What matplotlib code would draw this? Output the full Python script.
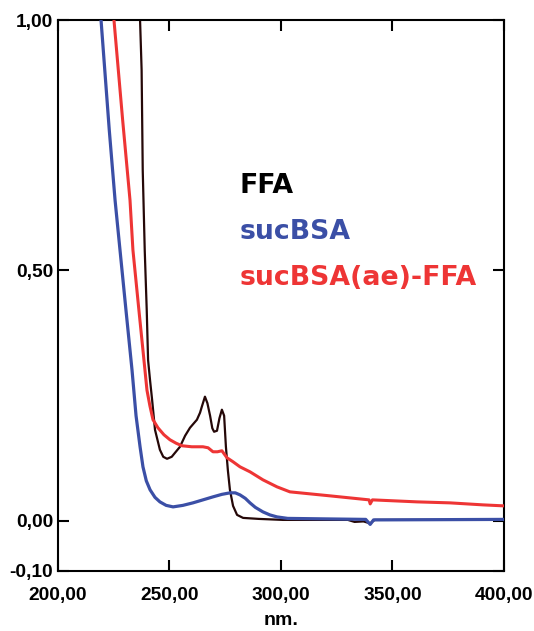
import matplotlib.pyplot as plt

# wavelength (nm) / absorbance
ffa_x = [236.8, 237.5, 238.0, 238.9, 239.8, 240.4, 241.3, 242.2, 243.5, 245.7, 247.2,
         248.9, 251.0, 254.7, 257.0, 259.2, 262.3, 263.7, 264.5, 265.9, 267.0, 268.2,
         269.2, 270.0, 271.3, 272.4, 273.5, 274.5, 275.3, 276.2, 277.1, 278.5, 280.3,
         283.0, 290.0, 300.9, 330.0, 333.0, 337.0, 340.0, 342.0, 400.0]
ffa_y = [1.00, 0.90, 0.70, 0.54, 0.42, 0.321, 0.28, 0.242, 0.182, 0.142, 0.128,
         0.124, 0.128, 0.148, 0.170, 0.186, 0.202, 0.216, 0.228, 0.248, 0.235, 0.210,
         0.185, 0.178, 0.180, 0.205, 0.222, 0.210, 0.148, 0.100, 0.062, 0.030, 0.012,
         0.006, 0.004, 0.002, 0.002, -0.002, -0.001, -0.005, 0.002, 0.002]

suc_x = [219.3, 223.0, 225.6, 227.8, 230.5, 233.2, 235.0, 236.8, 238.1, 239.6, 241.3,
         243.5, 245.7, 248.5, 251.6, 256.0, 260.5, 265.0, 269.5, 273.5, 277.1, 279.5,
         281.6, 284.0, 286.1, 288.5, 291.9, 295.0, 298.2, 303.0, 320.0, 338.0, 340.0,
         341.5, 400.0]
suc_y = [1.00, 0.78, 0.64, 0.541, 0.42, 0.301, 0.21, 0.148, 0.108, 0.080, 0.062,
         0.047, 0.038, 0.031, 0.028, 0.031, 0.036, 0.042, 0.048, 0.053, 0.056, 0.056,
         0.052, 0.045, 0.036, 0.027, 0.018, 0.012, 0.008, 0.005, 0.004, 0.003, -0.007,
         0.002, 0.003]

mix_x = [225.1, 229.0, 232.3, 233.6, 236.3, 239.0, 239.9, 241.2, 242.6, 244.8, 247.5,
         250.2, 253.0, 255.6, 260.0, 265.0, 267.3, 269.5, 271.5, 273.5, 275.8, 278.5,
         281.6, 286.1, 291.9, 298.2, 304.0, 308.5, 322.0, 339.5, 340.0, 341.0, 361.0,
         375.8, 390.6, 400.0]
mix_y = [1.00, 0.80, 0.64, 0.541, 0.42, 0.301, 0.261, 0.230, 0.202, 0.186, 0.172,
         0.162, 0.155, 0.150, 0.148, 0.148, 0.146, 0.138, 0.138, 0.140, 0.126, 0.118,
         0.108, 0.098, 0.082, 0.068, 0.058, 0.056, 0.050, 0.042, 0.034, 0.042, 0.038,
         0.036, 0.032, 0.030]

x_ticks = [200, 250, 300, 350, 400]
x_labels = ['200,00', '250,00', '300,00', '350,00', '400,00']
y_ticks = [-0.1, 0.0, 0.5, 1.0]
y_labels = ['-0,10', '0,00', '0,50', '1,00']

plt.rcParams['font.family'] = ['Liberation Sans', 'DejaVu Sans']

fig = plt.figure(figsize=(5.34, 6.31), dpi=100)
ax = fig.add_axes([0.1086, 0.0951, 0.8352, 0.8732])

ax.plot(ffa_x, ffa_y, color='#250808', lw=1.6, zorder=2)
ax.plot(mix_x, mix_y, color='#ee3535', lw=2.2, zorder=3)
ax.plot(suc_x, suc_y, color='#3b4fa6', lw=2.3, zorder=4)

ax.set_xlim(200, 400)
ax.set_ylim(-0.1, 1.0)
ax.set_xticks(x_ticks)
ax.set_xticklabels(x_labels, fontsize=13.8, fontweight='bold')
ax.set_yticks(y_ticks)
ax.set_yticklabels(y_labels, fontsize=13.8, fontweight='bold')
ax.tick_params(axis='x', direction='in', length=8, width=1.5, pad=11.5, top=True)
ax.tick_params(axis='y', direction='in', length=8, width=1.5, pad=3.5, right=True)
ax.set_xlabel('nm.', fontsize=14, fontweight='bold', labelpad=6)
for s in ax.spines.values():
    s.set_linewidth(1.5)

tfont = dict(family=['DejaVu Sans'], fontweight='bold', fontsize=19.3,
             transform=ax.transAxes, va='baseline', ha='left')
ax.text(0.408, 0.686, 'FFA', color='black', **tfont)
ax.text(0.408, 0.6025, 'sucBSA', color='#3b4fa6', **tfont)
ax.text(0.408, 0.519, 'sucBSA(ae)-FFA', color='#ee3535', **tfont)

fig.savefig('out.png', dpi=100)
